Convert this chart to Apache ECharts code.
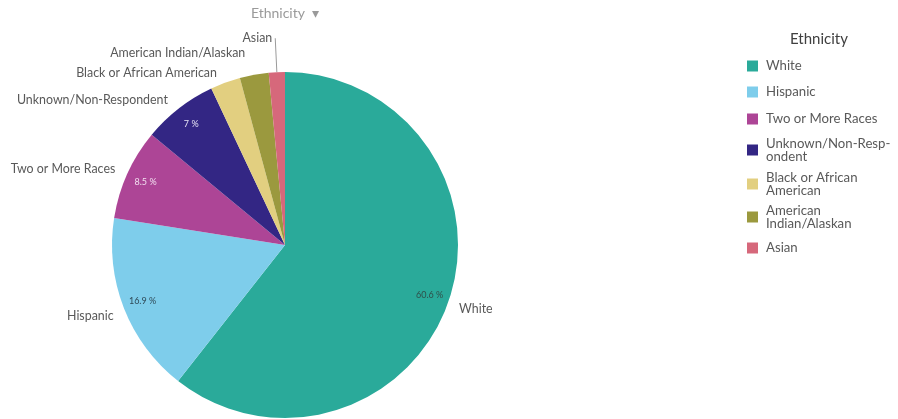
<!DOCTYPE html>
<html>
<head>
<meta charset="utf-8">
<script src="https://cdn.jsdelivr.net/npm/echarts@6/dist/echarts.min.js"></script>
<style>
  html, body { margin: 0; padding: 0; background: #fff; }
  #chart { width: 898px; height: 419px; }
</style>
</head>
<body>
<div id="chart"></div>
<script>
// Ethnicity breakdown (percent of total)
const categories = [
  'White',
  'Hispanic',
  'Two or More Races',
  'Unknown/Non-Respondent',
  'Black or African American',
  'American Indian/Alaskan',
  'Asian'
];
const shares = [60.6, 16.9, 8.5, 7, 2.8, 2.7, 1.5];
// Legend text with manual wrapping
const legendLabels = {
  'Unknown/Non-Respondent': 'Unknown/Non-Resp-\nondent',
  'Black or African American': 'Black or African\nAmerican',
  'American Indian/Alaskan': 'American\nIndian/Alaskan'
};
const colors = ['#2aaa9a', '#7ecdeb', '#ad4596', '#332684', '#e2cf80', '#9b993e', '#d6687b'];
// Percent labels drawn inside the larger slices only
const insideLabelColors = ['#2f4f4a', '#2f4a58', '#f2dff0', '#e6e3f5', null, null, null];

const FONT = 'Lato, "Open Sans", sans-serif';

// Layout: leader length and fine offset for each outside label, legend row centres
const labelLengths = [8, 10, 11, 10, 10, 22, 34];
const labelOffsets = [[-2, 5], [4, 4], [3, 0], [0, 0], [0, 0], [0, 0], [2, 0]];
const legendRowCenters = [66, 92, 119, 150, 184, 217, 248];
const LEGEND_LINE = 13;

const outerData = categories.map((name, i) => ({
  name,
  value: shares[i],
  itemStyle: { color: colors[i] },
  label: { offset: labelOffsets[i] },
  labelLine: name === 'Asian'
    ? { show: true, length: labelLengths[i], length2: 0, lineStyle: { color: '#9a9a9a', width: 1 } }
    : { show: false, length: labelLengths[i], length2: 0 }
}));

const innerData = categories.map((name, i) => ({
  name,
  value: shares[i],
  label: insideLabelColors[i]
    ? { show: true, color: insideLabelColors[i] }
    : { show: false }
}));

// One legend block per category so each row sits at its own height
const legends = categories.map((name, i) => {
  const text = legendLabels[name] || name;
  const lines = text.split('\n').length;
  return {
    orient: 'vertical',
    left: 747, top: legendRowCenters[i] - (lines * LEGEND_LINE) / 2,
    padding: 0,
    icon: 'rect',
    itemWidth: 11, itemHeight: 11,
    selectedMode: false,
    data: [name],
    formatter: () => text,
    textStyle: {
      fontFamily: FONT, fontSize: 13.2, color: '#595959',
      lineHeight: LEGEND_LINE, padding: [0, 0, 0, 3]
    }
  };
});

const chart = echarts.init(document.getElementById('chart'), null, { renderer: 'canvas' });
chart.setOption({
  animation: false,
  color: colors,
  title: [
    {
      text: 'Ethnicity  \u25BE',
      left: 280, top: 1, textAlign: 'center',
      textStyle: { fontFamily: FONT, fontSize: 14, fontWeight: 'normal', color: '#9a9a9a' }
    },
    {
      text: 'Ethnicity',
      left: 814, top: 27, textAlign: 'center',
      textStyle: { fontFamily: FONT, fontSize: 15, fontWeight: 'normal', color: '#404040' }
    }
  ],
  legend: legends,
  series: [
    {
      type: 'pie',
      center: [285, 245],
      radius: [0, 173],
      startAngle: 90,
      clockwise: true,
      avoidLabelOverlap: false,
      label: {
        show: true,
        position: 'outside',
        formatter: '{b}',
        fontFamily: FONT, fontSize: 12.4, color: '#595959'
      },
      itemStyle: { borderWidth: 0 },
      emphasis: { disabled: true },
      data: outerData
    },
    {
      type: 'pie',
      center: [285, 245],
      radius: [127, 173],
      startAngle: 90,
      clockwise: true,
      silent: true,
      legendHoverLink: false,
      avoidLabelOverlap: false,
      itemStyle: { color: 'rgba(0,0,0,0)', borderWidth: 0 },
      label: {
        position: 'inside',
        formatter: p => p.value + ' %',
        fontFamily: FONT, fontSize: 9
      },
      labelLine: { show: false },
      emphasis: { disabled: true },
      data: innerData
    }
  ]
});
</script>
</body>
</html>
